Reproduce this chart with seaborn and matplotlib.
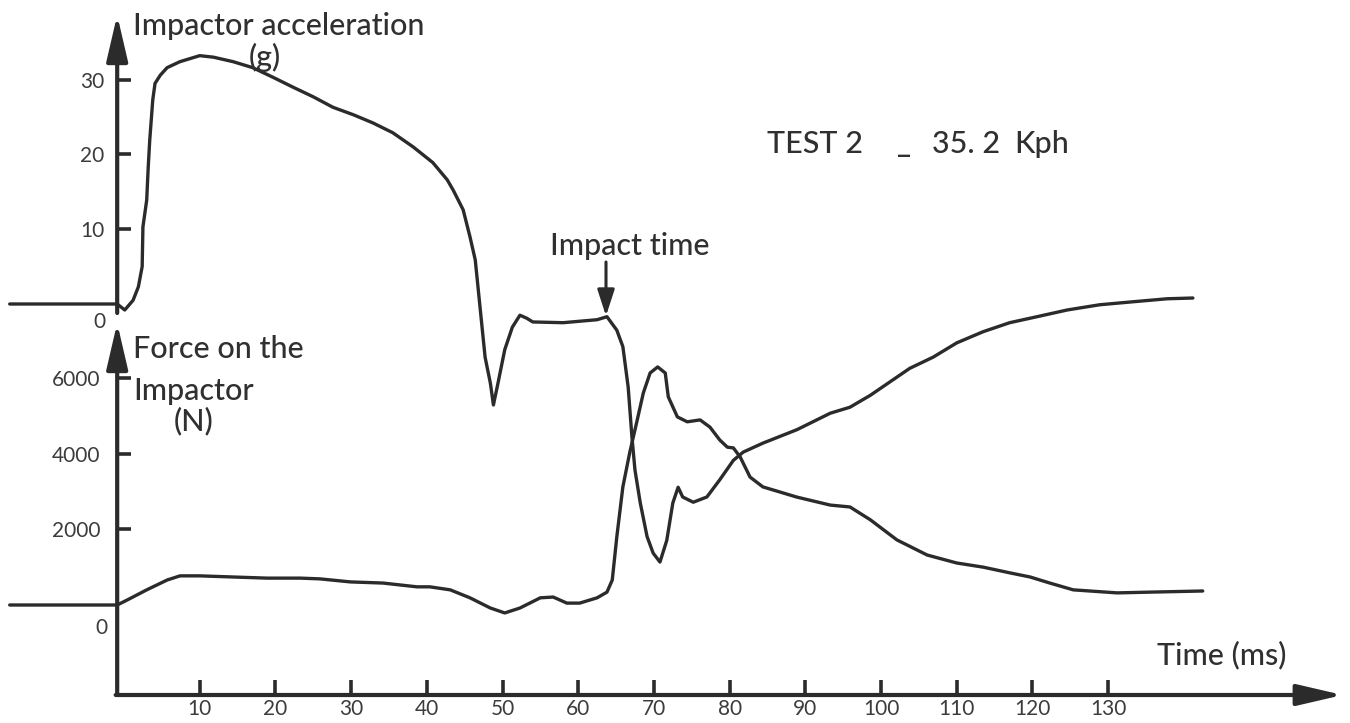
import matplotlib
matplotlib.use("Agg")
import matplotlib.pyplot as plt
import pandas as pd
import seaborn as sns

# ---------------- data ----------------
accel_time = [-15.1, -0.9, 0.1, 1.2, 1.9, 2.4, 2.5, 3.0, 3.2, 3.4, 3.8, 4.1, 4.8, 5.7, 7.4,
              10.0, 11.8, 14.4, 17.0, 19.7, 22.3, 25.0, 27.6, 30.3, 32.9, 35.5, 38.2, 40.8,
              42.7, 43.5, 44.8, 45.7, 46.4, 46.8, 47.3, 47.7, 48.4, 48.8, 49.4, 50.3, 51.3,
              52.3, 53.2, 54.0, 58.0, 62.5, 63.8, 65.1, 65.9, 66.6, 67.1, 67.5, 68.2, 69.1,
              69.9, 70.8, 71.7, 72.5, 73.2, 73.8, 75.2, 77.0, 78.7, 80.5, 81.8, 84.4, 88.9,
              93.3, 95.9, 98.6, 101.2, 103.8, 106.9, 110.0, 113.5, 117.0, 120.6, 124.6,
              128.9, 133.3, 137.8, 141.2]
accel_g = [0, 0, -0.8, 0.5, 2.3, 5.0, 10.3, 13.9, 18.3, 21.9, 27.3, 29.5, 30.6, 31.6, 32.4,
           33.2, 33.0, 32.4, 31.6, 30.3, 29.0, 27.7, 26.3, 25.3, 24.2, 22.9, 21.0, 18.9,
           16.6, 15.2, 12.6, 9.0, 5.9, 1.9, -3.1, -7.1, -10.6, -13.5, -10.6, -6.1, -3.1,
           -1.5, -1.9, -2.4, -2.5, -2.1, -1.7, -3.5, -5.7, -11.1, -17.8, -22.2, -26.6, -31.1,
           -33.3, -34.5, -31.6, -26.6, -24.5, -25.8, -26.5, -25.8, -23.5, -20.9, -19.8, -18.6, -16.8,
           -14.6, -13.8, -12.2, -10.4, -8.6, -7.1, -5.2, -3.7, -2.5, -1.7, -0.8,
           -0.1, 0.3, 0.7, 0.8]

force_time = [-15.1, -0.9, 0.4, 3.0, 5.7, 7.4, 10.0, 14.4, 18.9, 23.3, 25.9, 29.9, 34.2, 38.7,
              40.4, 43.1, 45.7, 48.4, 50.3, 52.3, 55.0, 56.7, 58.5, 60.2, 62.5, 63.8, 64.5,
              65.1, 65.9, 66.8, 67.8, 68.6, 69.5, 70.5, 71.5, 71.9, 73.1, 74.4, 76.1, 77.4,
              78.7, 79.7, 80.5, 81.4, 82.7, 84.4, 88.9, 93.3, 95.9, 98.6, 102.1, 106.1, 110.0,
              113.5, 117.0, 119.7, 122.3, 125.4, 131.2, 135.5, 142.5]
force_n = [0, 0, 130, 400, 660, 770, 770, 740, 710, 710, 690, 610, 580, 480,
           480, 400, 190, -80, -210, -80, 190, 210, 50, 50, 190, 340, 660,
           1800, 3120, 4020, 4890, 5600, 6130, 6290, 6130, 5500, 4970, 4840, 4890, 4700,
           4360, 4170, 4150, 3910, 3380, 3120, 2850, 2640, 2590, 2250, 1720, 1320, 1110,
           1000, 850, 740, 580, 400, 320, 340, 370]

time_ticks = [10, 20, 30, 40, 50, 60, 70, 80, 90, 100, 110, 120, 130]
accel_ticks = [10, 20, 30]
force_ticks = [2000, 4000, 6000]

accel_df = pd.DataFrame({"Time (ms)": accel_time, "Acceleration (g)": accel_g})
force_df = pd.DataFrame({"Time (ms)": force_time, "Force (N)": force_n})

# ---------------- style ----------------
sns.set_theme(style="white")
plt.rcParams["font.family"] = ["Lato", "DejaVu Sans"]
INK = "#2b2b2b"
TXT = "#303030"
TICK_TXT = "#3c3c3c"

W, H = 1350, 723
fig = plt.figure(figsize=(W / 100, H / 100), dpi=100)
fig.patch.set_facecolor("white")
axF = fig.add_axes([0, 0, 1, 1])
axA = axF.twinx()

# scales (pixel layout of the reference)
X0, XS = 124.0, 7.57          # time axis
A0, AS = 304.0, 7.48          # acceleration axis
F0, FS = 605.0, 0.03785       # force axis
axF.set_xlim(-X0 / XS, (W - X0) / XS)
axA.set_ylim((A0 - H) / AS, A0 / AS)
axF.set_ylim((F0 - H) / FS, F0 / FS)
axF.patch.set_visible(False)

AXIS_T = -0.9                         # time position of the vertical axes
TIME_AXIS_F = (F0 - 695) / FS         # force level of the time axis

# ---------------- curves ----------------
sns.lineplot(data=accel_df, x="Time (ms)", y="Acceleration (g)", ax=axA,
             color=INK, linewidth=2.4, estimator=None, sort=False)
sns.lineplot(data=force_df, x="Time (ms)", y="Force (N)", ax=axF,
             color=INK, linewidth=2.4, estimator=None, sort=False)
for ax in (axF, axA):
    for ln in ax.get_lines():
        ln.set_solid_joinstyle("round")
        ln.set_solid_capstyle("round")

for ax in (axF, axA):
    for s in ax.spines.values():
        s.set_visible(False)
    ax.set_xlabel("")
    ax.set_ylabel("")
    ax.grid(False)

# ---------------- axes arrows ----------------
arrow_kw = dict(arrowstyle="-|>,head_length=28,head_width=6.5", mutation_scale=1,
                lw=3.0, color=INK, shrinkA=0, shrinkB=0)
axF.annotate("", xy=(161.0, TIME_AXIS_F), xytext=(AXIS_T - 0.2, TIME_AXIS_F),
             arrowprops=arrow_kw, annotation_clip=False)
axF.annotate("", xy=(AXIS_T, (F0 - 323) / FS), xytext=(AXIS_T, TIME_AXIS_F),
             arrowprops=arrow_kw, annotation_clip=False)
axA.annotate("", xy=(AXIS_T, (A0 - 15) / AS), xytext=(AXIS_T, (A0 - 313) / AS),
             arrowprops=arrow_kw, annotation_clip=False)

# ---------------- ticks ----------------
axF.spines["left"].set_position(("data", AXIS_T))
axF.spines["bottom"].set_position(("data", TIME_AXIS_F))
axF.set_xticks(time_ticks)
axF.set_xticklabels([str(t) for t in time_ticks])
axF.set_yticks(force_ticks)
axF.set_yticklabels([str(v) for v in force_ticks])
axF.tick_params(axis="x", bottom=True, top=False, direction="in", length=11, width=2.6,
                color=INK, pad=3, labelsize=15, labelcolor=TICK_TXT)
axF.tick_params(axis="y", left=True, right=False, direction="in", length=10, width=2.6,
                color=INK, pad=12, labelsize=15, labelcolor=TICK_TXT)

axA.yaxis.set_ticks_position("left")
axA.spines["left"].set_position(("data", AXIS_T))
axA.set_yticks(accel_ticks)
axA.set_yticklabels([str(v) for v in accel_ticks])
axA.tick_params(axis="y", left=True, right=False, labelleft=True, labelright=False,
                direction="in", length=10, width=2.6, color=INK, pad=9,
                labelsize=15, labelcolor=TICK_TXT)

# zero labels sit below the base lines
axA.annotate("0", xy=(AXIS_T, 0), xytext=(-12, -18), textcoords="offset pixels",
             ha="right", va="center", fontsize=15, color=TICK_TXT, annotation_clip=False)
axF.annotate("0", xy=(AXIS_T, 0), xytext=(-10, -23), textcoords="offset pixels",
             ha="right", va="center", fontsize=15, color=TICK_TXT, annotation_clip=False)

# ---------------- texts ----------------
def fx(px):
    return px / W


def fy(py):
    return 1 - py / H


label_kw = dict(fontsize=22, color=TXT, fontweight="medium")
fig.text(fx(133), fy(35), "Impactor acceleration", va="baseline", **label_kw)
fig.text(fx(265), fy(57), "(g)", va="center", ha="center", **label_kw)
fig.text(fx(133), fy(358), "Force on the", va="baseline", **label_kw)
fig.text(fx(133), fy(400), "Impactor", va="baseline", **label_kw)
fig.text(fx(194), fy(421), "(N)", va="center", ha="center", **label_kw)
fig.text(fx(767), fy(153), "TEST 2", va="baseline", **label_kw)
fig.text(fx(897), fy(153), "_", va="baseline", **label_kw)
fig.text(fx(932), fy(153), "35. 2", va="baseline", **label_kw)
fig.text(fx(1014), fy(153), "Kph", va="baseline", **label_kw)
fig.text(fx(1157), fy(664), "Time (ms)", va="baseline", **label_kw)
fig.text(fx(550), fy(255), "Impact time", va="baseline", **label_kw)

# impact time arrow
axA.annotate("", xy=((606 - X0) / XS, (A0 - 316) / AS), xytext=((606 - X0) / XS, (A0 - 262) / AS),
             arrowprops=dict(arrowstyle="-|>,head_length=16,head_width=5.2", mutation_scale=1,
                             lw=2.2, color=INK, shrinkA=0, shrinkB=0),
             annotation_clip=False)

fig.savefig("out.png", dpi=100, facecolor="white")
